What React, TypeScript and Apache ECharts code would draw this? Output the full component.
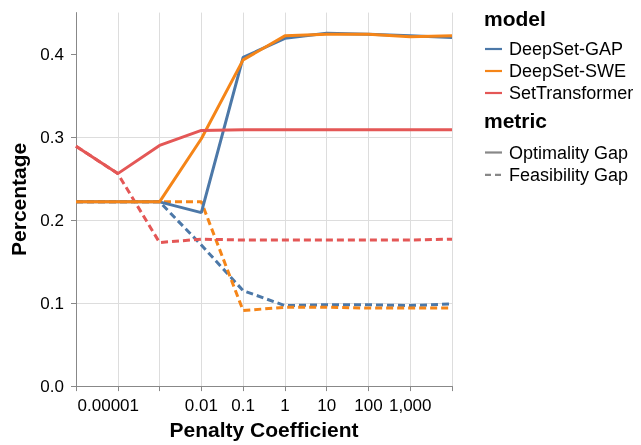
import React, { useEffect, useRef } from "react";
import * as echarts from "echarts";

const penaltyValues = ["0", "0.00001", "0.001", "0.01", "0.1", "1", "10", "100", "1000", "10000"];
const xTickLabels = ["", "0.00001", "", "0.01", "0.1", "1", "10", "100", "1,000", ""];
const yTickValues = [0, 0.1, 0.2, 0.3, 0.4];

const models = ["DeepSet-GAP", "DeepSet-SWE", "SetTransformer"];
const modelColors = ["#4c78a8", "#f58518", "#e45756"];
const metrics = ["Optimality Gap", "Feasibility Gap"];

const gapOptimality = [0.222, 0.222, 0.222, 0.209, 0.396, 0.419, 0.425, 0.424, 0.422, 0.42];
const gapFeasibility = [0.222, 0.222, 0.222, 0.17, 0.115, 0.097, 0.098, 0.098, 0.097, 0.099];
const sweOptimality = [0.222, 0.222, 0.222, 0.298, 0.393, 0.422, 0.424, 0.424, 0.421, 0.422];
const sweFeasibility = [0.222, 0.222, 0.222, 0.222, 0.091, 0.095, 0.095, 0.094, 0.094, 0.094];
const stOptimality = [0.289, 0.256, 0.29, 0.308, 0.309, 0.309, 0.309, 0.309, 0.309, 0.309];
const stFeasibility = [0.289, 0.256, 0.173, 0.177, 0.176, 0.176, 0.176, 0.176, 0.176, 0.177];

const seriesData = [
  [gapOptimality, gapFeasibility],
  [sweOptimality, sweFeasibility],
  [stOptimality, stFeasibility],
];

const FONT = "'Liberation Sans', Arial, Helvetica, sans-serif";
const DASH = [7, 4];

export default function App() {
  const ref = useRef<HTMLDivElement>(null);
  useEffect(() => {
    if (!ref.current) return;
    const chart = echarts.init(ref.current, undefined, { renderer: "svg" });

    const series: any[] = [];
    [1, 0].forEach((ki) => {
      models.forEach((m, mi) => {
        series.push({
          name: m + " " + metrics[ki],
          type: "line",
          data: seriesData[mi][ki],
          symbol: "none",
          lineStyle: {
            color: modelColors[mi],
            width: 3,
            type: ki === 1 ? DASH : "solid",
          },
          z: ki === 0 ? 3 : 2,
        });
      });
    });

    const graphics: any[] = [];
    const legX = 484;
    graphics.push({
      type: "text",
      left: legX,
      top: 8,
      style: { text: "model", font: `bold 21px ${FONT}`, fill: "#000" },
    });
    models.forEach((m, i) => {
      const y = 49 + 22 * i;
      graphics.push({
        type: "line",
        shape: { x1: 485, y1: y, x2: 502, y2: y },
        style: { stroke: modelColors[i], lineWidth: 2.2 },
      });
      graphics.push({
        type: "text",
        x: 509,
        y: y,
        style: { text: m, font: `18px ${FONT}`, fill: "#000", verticalAlign: "middle" },
      });
    });
    graphics.push({
      type: "text",
      left: legX,
      top: 110,
      style: { text: "metric", font: `bold 21px ${FONT}`, fill: "#000" },
    });
    metrics.forEach((m, i) => {
      const y = 152.5 + 22.3 * i;
      graphics.push({
        type: "line",
        shape: { x1: 485, y1: y, x2: 502, y2: y },
        style: { stroke: "#888", lineWidth: 2.2, lineDash: i === 1 ? [6, 4] : null },
      });
      graphics.push({
        type: "text",
        x: 509,
        y: y,
        style: { text: m, font: `18px ${FONT}`, fill: "#000", verticalAlign: "middle" },
      });
    });

    chart.setOption({
      animation: false,
      textStyle: { fontFamily: FONT },
      grid: { left: 76, right: 189, top: 12.6, bottom: 57.5, containLabel: false },
      xAxis: {
        type: "category",
        data: penaltyValues,
        boundaryGap: false,
        name: "Penalty Coefficient",
        nameLocation: "middle",
        nameGap: 31,
        nameTextStyle: { fontSize: 21, fontWeight: "bold", color: "#000", fontFamily: FONT },
        axisLine: { lineStyle: { color: "#888", width: 1 } },
        axisTick: { show: true, interval: 0, length: 5, lineStyle: { color: "#888" } },
        axisLabel: {
          interval: 0,
          fontSize: 17,
          color: "#000",
          margin: 11,
          fontFamily: FONT,
          formatter: (_v: string, i: number) =>
            i === 1 ? `{shift|${xTickLabels[i]}}` : xTickLabels[i],
          rich: {
            shift: { fontSize: 17, color: "#000", fontFamily: FONT, padding: [0, 19, 0, 0] },
          },
        },
        splitLine: { show: true, interval: 0, lineStyle: { color: "#ddd", width: 1 } },
      },
      yAxis: {
        type: "value",
        min: 0,
        max: 0.45,
        interval: 0.1,
        name: "Percentage",
        nameLocation: "middle",
        nameGap: 44,
        nameTextStyle: { fontSize: 21, fontWeight: "bold", color: "#000", fontFamily: FONT },
        axisLine: { show: true, lineStyle: { color: "#888", width: 1 } },
        axisTick: { show: true, length: 5, lineStyle: { color: "#888" }, customValues: yTickValues },
        axisLabel: {
          fontSize: 17,
          color: "#000",
          margin: 12,
          fontFamily: FONT,
          customValues: yTickValues,
          formatter: (v: number) => v.toFixed(1),
        },
        splitLine: { show: true, showMaxLine: false, lineStyle: { color: "#ddd", width: 1 } },
      },
      graphic: graphics,
      series,
    });
    return () => chart.dispose();
  }, []);
  return (
    <div
      ref={ref}
      style={{ position: "fixed", left: 0, top: 0, width: 641, height: 445 }}
    />
  );
}
